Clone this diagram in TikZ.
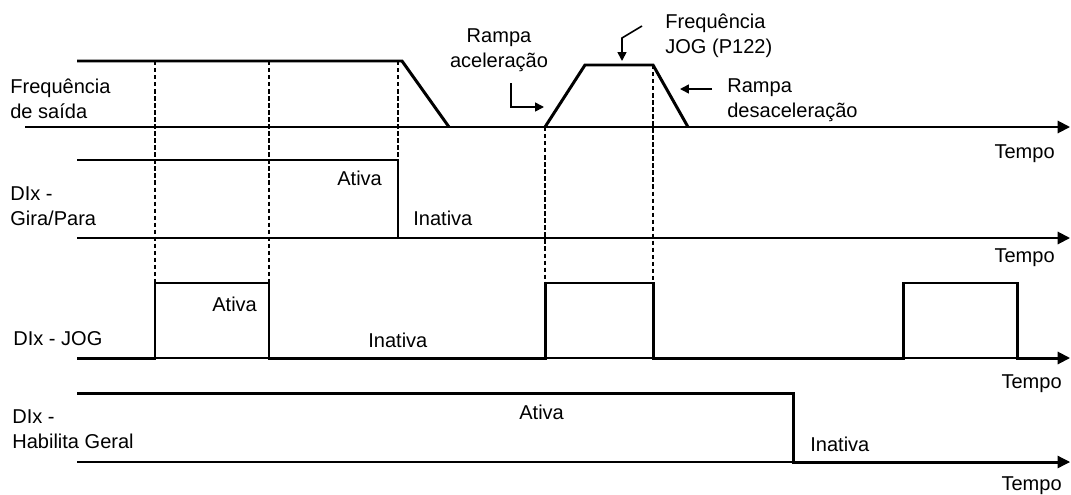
\documentclass[tikz,border=0pt]{standalone}
\usepackage{fontspec}
\setmainfont{Liberation Sans}
\usetikzlibrary{arrows.meta}

\begin{document}
\begin{tikzpicture}[x=0.02cm, y=-0.02cm,
    lbl/.style={font=\fontsize{11.4}{14.2}\selectfont, inner sep=0pt, anchor=base west, align=left},
    axis/.style={-{Triangle[length=7pt,width=7pt]}, line width=1.1pt},
    sig/.style={line width=1.7pt, line join=miter},
    guide/.style={dash pattern=on 2.5pt off 1.5pt, line width=0.8pt},
    note/.style={-{Triangle[length=5pt,width=5pt]}, line width=0.9pt}
]
\useasboundingbox (0,0) rectangle (1071,494);

% eixos de tempo
\draw[axis] (25,127) -- (1070,127);
\draw[axis] (77,238) -- (1070,238);
\draw[axis] (77,358) -- (1070,358);
\draw[axis, line width=0.7pt] (77,462) -- (1070,462);

% linhas de referencia
\foreach \xg/\ya/\yb in {155/61/283, 269/61/283, 398/61/160, 545/127/283, 653/65/283}
    \draw[guide] (\xg,\ya) -- (\xg,\yb);

% sinais
\draw[sig] (77,61) -- (402,61) -- (449,127);
\draw[sig] (545,127) -- (585,65) -- (653,65) -- (688,127);
\draw[sig] (77,160) -- (398,160) -- (398,238) -- (1060,238);
\draw[sig] (77,358) -- (155,358) -- (155,283) -- (269,283) -- (269,358) -- (545,358)
    -- (545,283) -- (653,283) -- (653,358) -- (903,358)
    -- (903,283) -- (1017,283) -- (1017,358) -- (1060,358);
\draw[line width=0.7pt] (155,358) -- (269,358);
\draw[sig] (77,393) -- (793,393) -- (793,462) -- (1060,462);

% rotulos (base = ultima linha)
\node[lbl] (freq) at (10,118) {Frequência\\de saída};
\node[lbl] (gira) at (10,225) {DIx -\\Gira/Para};
\node[lbl] (jog) at (13,345) {DIx - JOG};
\node[lbl] (hab) at (12,448) {DIx -\\Habilita Geral};

\node[lbl] (ativaB) at (337,185) {Ativa};
\node[lbl] (inativaB) at (413,225) {Inativa};
\node[lbl] (ativaC) at (212,311) {Ativa};
\node[lbl] (inativaC) at (368,347) {Inativa};
\node[lbl] (ativaD) at (519,419) {Ativa};
\node[lbl] (inativaD) at (810,451) {Inativa};

\node[lbl, anchor=base east] (tempoA) at (1055,158) {Tempo};
\node[lbl, anchor=base east] (tempoB) at (1055,262) {Tempo};
\node[lbl, anchor=base east] (tempoC) at (1062,388) {Tempo};
\node[lbl, anchor=base east] (tempoD) at (1062,490) {Tempo};

\node[lbl, anchor=base, align=center] (racel) at (499,67) {Rampa\\aceleração};
\node[lbl] (fjog) at (665,53) {Frequência\\JOG (P122)};
\node[lbl] (rdes) at (727,117) {Rampa\\desaceleração};

% setas de indicacao
\coordinate (acelA) at (511,83);
\coordinate (acelB) at (544,107);
\coordinate (jogA) at (642,26);
\coordinate (jogB) at (622,38);
\coordinate (jogC) at (622,61);
\coordinate (desA) at (712,89);
\coordinate (desB) at (680,89);
\draw[note] (acelA) |- (acelB);
\draw[note] (jogA) -- (jogB) -- (jogC);
\draw[note] (desA) -- (desB);
\end{tikzpicture}
\end{document}
